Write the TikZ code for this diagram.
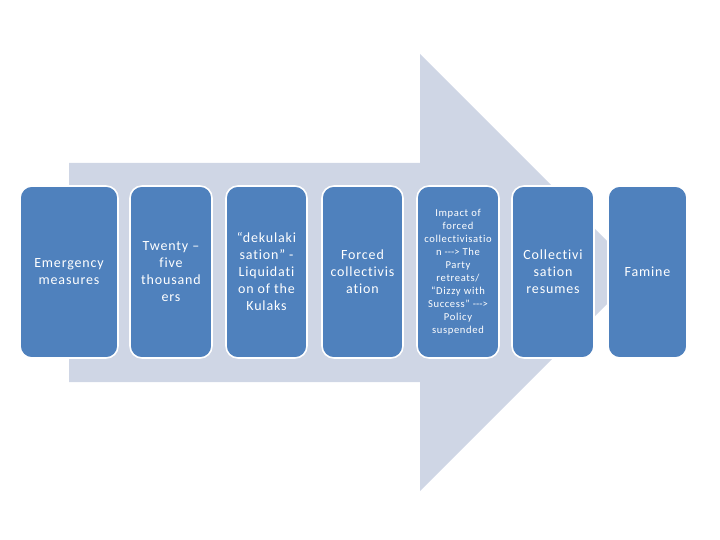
\documentclass[tikz,border=0pt]{standalone}
\usepackage{fontspec}
\setmainfont{Carlito}[LetterSpace=6, Ligatures={NoCommon,NoContextual}]
\definecolor{arrowc}{HTML}{CFD6E5}
\definecolor{boxc}{HTML}{4F81BD}
\tikzset{
  stagebox/.style={fill=boxc, draw=white, line width=1.6pt, rounded corners=12pt,
    align=center, text=white, minimum height=172pt, inner sep=0pt,
    font=\fontsize{14}{17}\selectfont},
  smalltext/.style={font=\fontsize{10.6}{13}\selectfont}
}
\newcommand{\longarrow}{\mbox{-}\mbox{-}\mbox{-}>}
\begin{document}
\begin{tikzpicture}[x=1pt,y=-1pt]
\useasboundingbox (0,0) rectangle (720,540);
\fill[arrowc] (69,163) -- (420,163) -- (420,54) -- (638.5,272.5) -- (420,491) -- (420,382) -- (69,382) -- cycle;
\node[stagebox, minimum width=98pt] (b1) at (69,272) {Emergency\\measures};
\node[stagebox, minimum width=82pt] (b2) at (171,272) {Twenty –\\five\\thousand\\ers};
\node[stagebox, minimum width=81pt] (b3) at (266.5,272) {“dekulaki\\sation” -\\Liquidati\\on of the\\Kulaks};
\node[stagebox, minimum width=81pt] (b4) at (362.5,272) {Forced\\collectivis\\ation};
\node[stagebox, smalltext, minimum width=82pt] (b5) at (458,272) {Impact of\\forced\\collectivisatio\\n \longarrow{} The\\Party\\retreats/\\“Dizzy with\\Success” \longarrow\\Policy\\suspended};
\node[stagebox, minimum width=82pt] (b6) at (553,272) {Collectivi\\sation\\resumes};
\node[stagebox, minimum width=79pt] (b7) at (647.5,272) {Famine};
\end{tikzpicture}
\end{document}
